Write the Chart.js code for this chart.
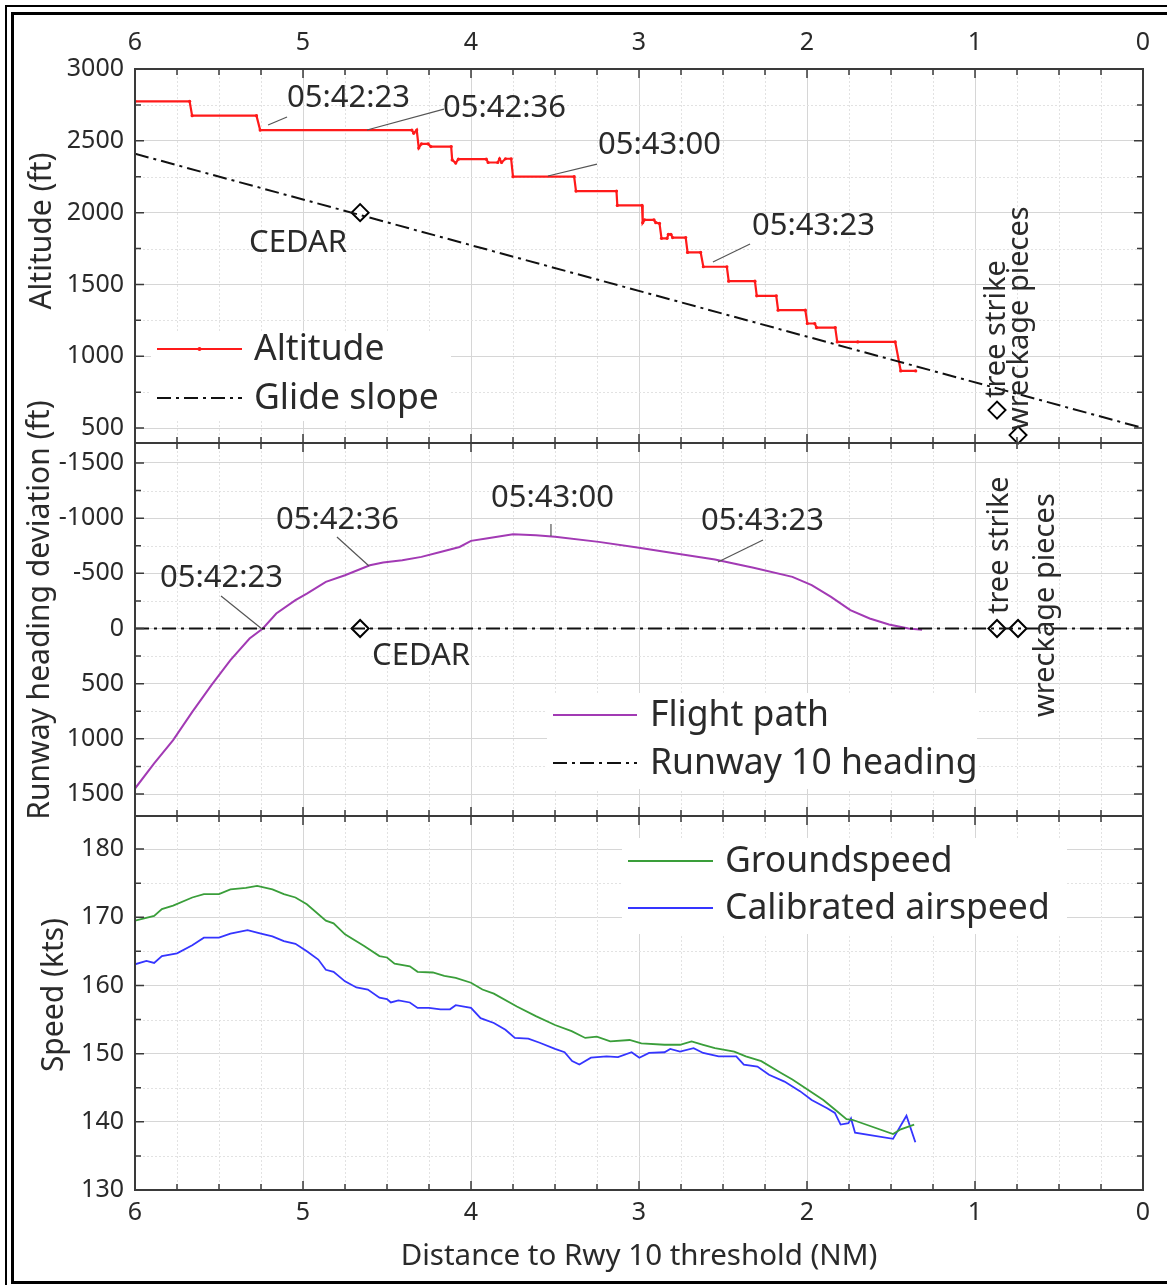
<!DOCTYPE html>
<html>
<head>
<meta charset="utf-8">
<title>Approach profile</title>
<script src="https://cdn.jsdelivr.net/npm/chart.js@4.4.1/dist/chart.umd.min.js"></script>
<style>
  html, body { margin: 0; padding: 0; background: #fff; }
  #wrap { position: relative; width: 1167px; height: 1285px; overflow: hidden; }
  #wrap canvas { position: absolute; left: 0; top: 0; }
  .outer { position: absolute; left: 5px; top: 5px; width: 1300px; height: 1400px; border-left: 2px solid #000; border-top: 2px solid #000; }
  .inner { position: absolute; left: 11px; top: 12px; width: 1300px; height: 1266px; border: 3px solid #000; }
</style>
</head>
<body>
<div id="wrap">
  <div class="outer"></div>
  <div class="inner"></div>
  <canvas id="cAlt" width="1167" height="1285"></canvas>
  <canvas id="cDev" width="1167" height="1285"></canvas>
  <canvas id="cSpd" width="1167" height="1285"></canvas>
</div>
<script>
// tick labels
const distTicks = [0, 1, 2, 3, 4, 5, 6];
const altTicks = [500, 1000, 1500, 2000, 2500, 3000];
const devTicks = [-1500, -1000, -500, 0, 500, 1000, 1500];
const speedTicks = [130, 140, 150, 160, 170, 180];

// altitude (NM to threshold, ft)
const altDist = [6.0, 5.675, 5.66, 5.277, 5.255, 4.352, 4.341, 4.323, 4.311, 4.295, 4.255, 4.239, 4.118, 4.112,
  4.091, 4.075, 3.909, 3.898, 3.841, 3.830, 3.818, 3.795, 3.761, 3.75, 3.386, 3.375, 3.134, 3.129, 2.982,
  2.978, 2.967, 2.911, 2.90, 2.878, 2.866, 2.833, 2.825, 2.810, 2.800, 2.722, 2.711, 2.633, 2.617, 2.477,
  2.466, 2.310, 2.299, 2.183, 2.172, 2.010, 1.998, 1.954, 1.943, 1.832, 1.820, 1.698, 1.475, 1.442, 1.353];
const altFt = [2775, 2775, 2675, 2675, 2575, 2575, 2553, 2575, 2450, 2478, 2478, 2460, 2460, 2367,
  2345, 2372, 2372, 2349, 2349, 2375, 2349, 2375, 2375, 2250, 2250, 2150, 2150, 2050, 2050,
  1930, 1950, 1950, 1930, 1925, 1821, 1821, 1849, 1849, 1826, 1826, 1723, 1723, 1623, 1623,
  1523, 1523, 1421, 1421, 1321, 1321, 1228, 1228, 1200, 1200, 1100, 1100, 1100, 898, 898];
const glideDist = [6, 0];
const glideFt = [2410, 500];

// heading deviation (ft, negative = left of centreline)
const pathDist = [6.0, 5.886, 5.773, 5.659, 5.545, 5.432, 5.318, 5.239, 5.159, 5.045, 4.977, 4.864, 4.75,
  4.602, 4.523, 4.409, 4.295, 4.182, 4.068, 4.0, 3.909, 3.75, 3.614, 3.5, 3.24, 3.01, 2.78, 2.548, 2.318,
  2.087, 1.972, 1.857, 1.742, 1.627, 1.512, 1.396, 1.315];
const pathDev = [1450, 1222, 1011, 755, 513, 287, 91, 0, -136, -257, -317, -423, -483,
  -573, -598, -619, -649, -694, -739, -794, -815, -854, -845, -832, -785, -734, -680, -625, -550,
  -468, -393, -287, -166, -91, -36, 0, 12];
const runwayDist = [6, 0];
const runwayDev = [0, 0];

// speeds (kts)
const gsDist = [6.0, 5.886, 5.84, 5.773, 5.659, 5.59, 5.5, 5.432, 5.34, 5.273, 5.182, 5.114, 5.045, 4.977,
  4.864, 4.818, 4.75, 4.636, 4.545, 4.5, 4.455, 4.364, 4.318, 4.227, 4.159, 4.091, 4.0, 3.932, 3.864,
  3.727, 3.614, 3.5, 3.401, 3.320, 3.251, 3.171, 3.056, 2.986, 2.848, 2.756, 2.687, 2.618, 2.548, 2.433,
  2.364, 2.272, 2.157, 2.087, 1.995, 1.903, 1.834, 1.765, 1.73, 1.488, 1.442, 1.362];
const gsKts = [169.5, 170.2, 171.2, 171.7, 172.9, 173.4, 173.4, 174.1, 174.3, 174.6, 174.1, 173.4, 172.9, 171.9,
  169.5, 169.1, 167.5, 165.8, 164.3, 164.1, 163.2, 162.8, 162.0, 161.9, 161.4, 161.1, 160.4, 159.4, 158.8,
  156.9, 155.5, 154.2, 153.3, 152.3, 152.5, 151.8, 152.0, 151.5, 151.3, 151.3, 151.8, 151.3, 150.8, 150.3,
  149.6, 148.9, 147.2, 146.2, 144.7, 143.2, 141.8, 140.4, 140.3, 138.2, 138.9, 139.6];
const casDist = [6.0, 5.932, 5.886, 5.84, 5.75, 5.659, 5.59, 5.5, 5.432, 5.33, 5.25, 5.182, 5.114, 5.045,
  4.977, 4.909, 4.864, 4.818, 4.75, 4.682, 4.614, 4.545, 4.5, 4.477, 4.432, 4.364, 4.318, 4.25, 4.182,
  4.125, 4.091, 4.0, 3.943, 3.864, 3.795, 3.739, 3.659, 3.591, 3.5, 3.443, 3.398, 3.355, 3.286, 3.193,
  3.125, 3.044, 2.998, 2.940, 2.848, 2.814, 2.756, 2.675, 2.618, 2.526, 2.421, 2.376, 2.295, 2.226,
  2.134, 2.042, 1.972, 1.880, 1.834, 1.8, 1.753, 1.738, 1.714, 1.488, 1.408, 1.355];
const casKts = [163.1, 163.6, 163.3, 164.3, 164.7, 165.9, 167.0, 167.0, 167.6, 168.1, 167.6, 167.2, 166.5, 166.1,
  165.0, 163.8, 162.3, 162.0, 160.6, 159.7, 159.4, 158.2, 158.0, 157.5, 157.8, 157.5, 156.7, 156.7, 156.5,
  156.5, 157.1, 156.7, 155.2, 154.5, 153.5, 152.3, 152.2, 151.6, 150.7, 150.2, 148.9, 148.4, 149.4, 149.6,
  149.5, 150.2, 149.4, 150.1, 150.2, 150.7, 150.3, 150.8, 150.1, 149.6, 149.6, 148.4, 148.1, 146.9,
  145.9, 144.5, 143.2, 142.0, 141.3, 139.6, 139.8, 140.5, 138.4, 137.5, 140.9, 137.0];

// fixes and events
const fixNames = ['CEDAR', 'tree strike', 'wreckage pieces'];
const fixDist = [4.66, 0.869, 0.744];
const fixAltFt = [2000, 625, 451];
const fixDev = [0, 0, 0];
const timeLabels = ['05:42:23', '05:42:36', '05:43:00', '05:43:23'];

const INK = '#2a2a2a';
const FONT = "'Noto Sans', sans-serif";
Chart.defaults.font.family = FONT;
Chart.defaults.color = INK;

const pts = (xs, ys) => xs.map((x, i) => ({ x, y: ys[i] }));
const between = (ticks, parts) => {
  const out = [];
  for (let i = 0; i < ticks.length - 1; i++)
    for (let k = 1; k < parts; k++) out.push(ticks[i] + (ticks[i + 1] - ticks[i]) * k / parts);
  return out;
};
const DASHDOT = [14, 5, 3, 5];

// draws minor grid, inward ticks, frame, legends and annotations
const decor = {
  id: 'decor',
  beforeDatasetsDraw(chart, args, o) {
    const { ctx, chartArea: a, scales: { x, y } } = chart;
    ctx.save();
    ctx.strokeStyle = '#e2e2e2';
    ctx.lineWidth = 1;
    ctx.setLineDash([2, 2]);
    ctx.beginPath();
    between(distTicks, 4).filter(v => v % 1).forEach(v => {
      const px = Math.round(x.getPixelForValue(v)) + 0.5;
      ctx.moveTo(px, a.top); ctx.lineTo(px, a.bottom);
    });
    between(o.yTicks, 2).forEach(v => {
      const py = Math.round(y.getPixelForValue(v)) + 0.5;
      ctx.moveTo(a.left, py); ctx.lineTo(a.right, py);
    });
    ctx.stroke();
    ctx.restore();
  },
  afterDatasetsDraw(chart, args, o) {
    const { ctx, chartArea: a, scales: { x, y } } = chart;
    ctx.save();
    // annotations with leader lines
    ctx.font = `31px ${FONT}`;
    ctx.textBaseline = 'middle';
    ctx.fillStyle = INK;
    o.notes.forEach((n, i) => {
      ctx.strokeStyle = '#555';
      ctx.lineWidth = 1.2;
      ctx.beginPath();
      ctx.moveTo(x.getPixelForValue(n.l[0]), y.getPixelForValue(n.l[1]));
      ctx.lineTo(x.getPixelForValue(n.l[2]), y.getPixelForValue(n.l[3]));
      ctx.stroke();
      ctx.fillText(timeLabels[i], x.getPixelForValue(n.x), y.getPixelForValue(n.y));
    });
    // fix labels
    o.fixLabels.forEach((f, i) => {
      ctx.save();
      ctx.font = `${f.rot ? 29 : 31}px ${FONT}`;
      ctx.translate(x.getPixelForValue(f.x), y.getPixelForValue(f.y));
      if (f.rot) ctx.rotate(-Math.PI / 2);
      ctx.textAlign = 'left';
      ctx.fillText(fixNames[i], 0, 0);
      ctx.restore();
    });
    // legend
    const L = o.legend;
    ctx.fillStyle = '#fff';
    ctx.fillRect(a.left + L.box[0], a.top + L.box[1], L.box[2], L.box[3]);
    ctx.font = `35.5px ${FONT}`;
    L.items.forEach(it => {
      const ly = a.top + it.dy;
      ctx.strokeStyle = it.color;
      ctx.lineWidth = it.width;
      ctx.setLineDash(it.dash || []);
      ctx.beginPath();
      ctx.moveTo(a.left + L.x1, ly); ctx.lineTo(a.left + L.x2, ly);
      ctx.stroke();
      ctx.setLineDash([]);
      if (it.dot) {
        ctx.fillStyle = it.color;
        ctx.beginPath(); ctx.arc(a.left + (L.x1 + L.x2) / 2, ly, 2, 0, Math.PI * 2); ctx.fill();
      }
      ctx.fillStyle = INK;
      ctx.fillText(it.label, a.left + L.tx, ly + 1);
    });
    ctx.restore();
  },
  afterDraw(chart, args, o) {
    const { ctx, chartArea: a, scales: { x, y } } = chart;
    ctx.save();
    ctx.strokeStyle = '#3a3a3a';
    ctx.lineWidth = 1.5;
    ctx.beginPath();
    const tick = (px, py, dx, dy) => { ctx.moveTo(px, py); ctx.lineTo(px + dx, py + dy); };
    distTicks.forEach(v => { const px = x.getPixelForValue(v); tick(px, a.top, 0, 9); tick(px, a.bottom, 0, -9); });
    between(distTicks, 4).filter(v => v % 1).forEach(v => { const px = x.getPixelForValue(v); tick(px, a.top, 0, 6); tick(px, a.bottom, 0, -6); });
    o.yTicks.forEach(v => { const py = y.getPixelForValue(v); tick(a.left, py, 9, 0); tick(a.right, py, -9, 0); });
    between(o.yTicks, 2).forEach(v => { const py = y.getPixelForValue(v); tick(a.left, py, 6, 0); tick(a.right, py, -6, 0); });
    ctx.stroke();
    ctx.lineWidth = 2;
    ctx.strokeRect(a.left, a.top, a.right - a.left, a.bottom - a.top);
    // y axis title
    ctx.fillStyle = INK;
    ctx.font = `30px ${FONT}`;
    ctx.translate(o.titleX, o.titleY);
    ctx.rotate(-Math.PI / 2);
    ctx.textAlign = 'center';
    ctx.textBaseline = 'middle';
    ctx.fillText(o.title, 0, 0);
    ctx.restore();
  }
};

const fixSet = (ys) => ({
  data: pts(fixDist, ys), showLine: false, pointStyle: 'rectRot', pointRadius: 8.5,
  pointBorderWidth: 2, pointBorderColor: '#000', pointBackgroundColor: '#fff', clip: false
});

function panel(id, p) {
  return new Chart(document.getElementById(id), {
    type: 'line',
    data: { datasets: p.datasets },
    plugins: [decor],
    options: {
      responsive: false,
      animation: false,
      events: [],
      layout: { padding: { left: 0, right: 24, top: p.padTop, bottom: p.padBottom } },
      plugins: { legend: { display: false }, tooltip: { enabled: false }, decor: p.decor },
      elements: { point: { radius: 0 }, line: { tension: 0 } },
      scales: {
        x: {
          type: 'linear', position: p.xPos, reverse: true, min: 0, max: 6,
          afterBuildTicks: s => { s.ticks = distTicks.map(v => ({ value: v })); },
          afterFit: s => { s.height = p.xHeight; },
          ticks: { display: p.xLabels, padding: p.xPad, font: { size: 25 }, color: INK, callback: v => String(v) },
          grid: { color: '#d6d6d6', drawTicks: false },
          border: { display: false },
          title: p.xTitle ? { display: true, text: p.xTitle, font: { size: 29.5 }, color: INK, padding: { top: 0, bottom: 11 } } : { display: false }
        },
        y: {
          type: 'linear', position: 'left', min: p.yMin, max: p.yMax, reverse: !!p.yReverse,
          afterBuildTicks: s => { s.ticks = p.decor.yTicks.map(v => ({ value: v })); },
          afterFit: s => { s.width = 135; },
          ticks: { padding: 11, font: { size: 25 }, color: INK, callback: v => String(v) },
          grid: { color: '#d6d6d6', drawTicks: false },
          border: { display: false }
        }
      }
    }
  });
}

panel('cAlt', {
  padTop: 0, padBottom: 1285 - 443, xPos: 'top', xHeight: 69, xLabels: true, xPad: 11,
  yMin: 396, yMax: 3000,
  datasets: [
    { data: pts(glideDist, glideFt), borderColor: '#111', borderWidth: 2, borderDash: DASHDOT },
    { data: pts(altDist, altFt), borderColor: '#ff1a1a', borderWidth: 2.2,
      pointRadius: 1.6, pointBackgroundColor: '#ff1a1a', pointBorderWidth: 0 },
    fixSet(fixAltFt)
  ],
  decor: {
    yTicks: altTicks, title: 'Altitude (ft)', titleX: 42, titleY: 231,
    notes: [
      { x: 5.095, y: 2798, l: [5.208, 2610, 5.095, 2666] },
      { x: 4.167, y: 2728, l: [4.619, 2575, 4.161, 2721] },
      { x: 3.244, y: 2471, l: [3.542, 2255, 3.25, 2338] },
      { x: 2.327, y: 1907, l: [2.560, 1656, 2.339, 1781] }
    ],
    fixLabels: [
      { x: 5.321, y: 1788 },
      { x: 0.869, y: 709, rot: true },
      { x: 0.732, y: 486, rot: true }
    ],
    legend: {
      box: [16, 262, 300, 90], x1: 22, x2: 107, tx: 119,
      items: [
        { label: 'Altitude', color: '#ff1a1a', width: 2.2, dot: true, dy: 280 },
        { label: 'Glide slope', color: '#111', width: 2, dash: DASHDOT, dy: 329 }
      ]
    }
  }
});

panel('cDev', {
  padTop: 443, padBottom: 1285 - 816, xPos: 'bottom', xHeight: 0, xLabels: false, xPad: 0,
  yMin: -1681, yMax: 1699, yReverse: true,
  datasets: [
    { data: pts(runwayDist, runwayDev), borderColor: '#111', borderWidth: 2, borderDash: DASHDOT },
    { data: pts(pathDist, pathDev), borderColor: '#a23ab4', borderWidth: 2 },
    fixSet(fixDev)
  ],
  decor: {
    yTicks: devTicks, title: 'Runway heading deviation (ft)', titleX: 40, titleY: 610,
    notes: [
      { x: 5.851, y: -458, l: [5.488, -295, 5.244, 5] },
      { x: 5.161, y: -983, l: [4.798, -829, 4.607, -566] },
      { x: 3.881, y: -1183, l: [3.524, -948, 3.524, -838] },
      { x: 2.631, y: -974, l: [2.262, -802, 2.530, -603] }
    ],
    fixLabels: [
      { x: 4.589, y: 249 },
      { x: 0.851, y: -131, rot: true },
      { x: 0.577, y: 802, rot: true }
    ],
    legend: {
      box: [412, 250, 430, 96], x1: 418, x2: 502, tx: 515,
      items: [
        { label: 'Flight path', color: '#a23ab4', width: 2, dy: 272 },
        { label: 'Runway 10 heading', color: '#111', width: 2, dash: DASHDOT, dy: 320 }
      ]
    }
  }
});

panel('cSpd', {
  padTop: 816, padBottom: 0, xPos: 'bottom', xHeight: 1285 - 1190, xLabels: true, xPad: 8,
  yMin: 130, yMax: 184.85,
  xTitle: 'Distance to Rwy 10 threshold (NM)',
  datasets: [
    { data: pts(gsDist, gsKts), borderColor: '#3a9e3a', borderWidth: 1.8 },
    { data: pts(casDist, casKts), borderColor: '#3535ff', borderWidth: 1.8 }
  ],
  decor: {
    yTicks: speedTicks, title: 'Speed (kts)', titleX: 54, titleY: 995,
    notes: [], fixLabels: [],
    legend: {
      box: [487, 22, 445, 96], x1: 493, x2: 578, tx: 590,
      items: [
        { label: 'Groundspeed', color: '#3a9e3a', width: 2, dy: 45 },
        { label: 'Calibrated airspeed', color: '#3535ff', width: 2, dy: 92 }
      ]
    }
  }
});
</script>
</body>
</html>
